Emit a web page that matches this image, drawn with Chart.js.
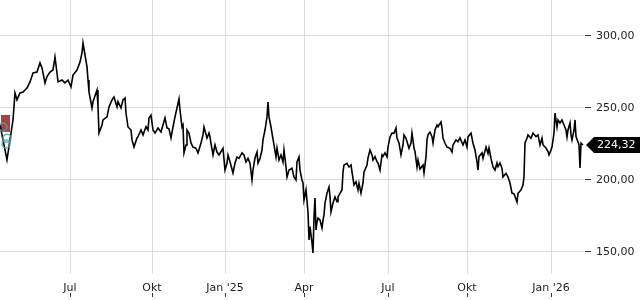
<!DOCTYPE html>
<html>
<head>
<meta charset="utf-8">
<script src="https://cdn.jsdelivr.net/npm/chart.js@4/dist/chart.umd.min.js"></script>
<style>
  html, body { margin: 0; padding: 0; background: #fff; }
  #chart { display: block; }
</style>
</head>
<body>
<canvas id="chart" width="640" height="300"></canvas>
<script>
// Price history: sample index (one sample per slot on the time axis) and close price
const sampleIdx = [
  0, 2, 4, 7, 10, 13, 15, 17, 20, 23, 27, 30, 33, 37, 40, 42, 45, 47, 50, 53,
  55, 57, 58, 62, 65, 68, 71, 73, 77, 80, 82, 83, 85, 87, 88, 89, 92, 93, 97, 98,
  99, 102, 103, 107, 109, 112, 114, 117, 118, 121, 123, 125, 126, 128, 131, 132, 134, 137, 138, 141,
  143, 146, 148, 149, 151, 153, 155, 158, 161, 163, 165, 167, 169, 171, 173, 175, 177, 179, 180, 182,
  183, 184, 186, 187, 189, 191, 193, 196, 198, 201, 203, 204, 207, 209, 210, 211, 213, 215, 217, 219,
  222, 223, 225, 227, 228, 230, 233, 235, 237, 239, 242, 244, 246, 248, 250, 252, 253, 255, 257, 258,
  260, 262, 263, 265, 267, 268, 269, 271, 272, 274, 276, 277, 279, 281, 283, 284, 286, 287, 289, 292,
  294, 296, 297, 299, 300, 302, 303, 304, 306, 308, 309, 310, 312, 313, 314, 315, 316, 317, 318, 320,
  322, 323, 324, 325, 327, 329, 330, 331, 333, 335, 337, 338, 340, 342, 343, 344, 347, 349, 351, 352,
  354, 356, 358, 359, 361, 363, 364, 367, 368, 370, 372, 373, 375, 377, 378, 380, 382, 383, 385, 387,
  388, 390, 392, 394, 396, 397, 399, 401, 403, 404, 406, 408, 409, 411, 412, 414, 415, 417, 418, 420,
  423, 424, 426, 427, 428, 430, 432, 433, 435, 437, 438, 441, 442, 443, 445, 447, 450, 452, 453, 456,
  458, 460, 463, 465, 467, 468, 471, 473, 475, 477, 478, 479, 482, 483, 486, 488, 489, 491, 493, 495,
  497, 498, 500, 502, 503, 506, 508, 510, 512, 514, 517, 518, 521, 523, 524, 525, 527, 528, 531, 533,
  536, 538, 540, 542, 543, 546, 548, 549, 551, 552, 554, 555, 557, 558, 560, 562, 564, 566, 567, 568,
  570, 571, 572, 574, 575, 576, 578, 579, 580, 581, 583
];
const price = [
  238.2, 231.3, 224.3, 213.9, 227.8, 241.7, 260.4, 255.6, 260.4, 261.1, 263.9, 268.1, 274.3, 275.0, 281.3, 277.8, 267.4, 271.8, 275.0, 276.4,
  285.4, 274.3, 268.1, 269.4, 267.4, 269.4, 264.6, 272.9, 276.4, 281.9, 288.2, 295.1, 286.8, 278.5, 269.4, 261.1, 250.0, 254.4, 262.5, 250.9,
  232.6, 238.2, 241.7, 243.8, 250.7, 255.6, 257.6, 250.7, 254.4, 250.0, 255.6, 256.9, 246.5, 236.8, 234.7, 227.8, 222.9, 229.2, 230.1, 234.7,
  231.3, 237.0, 234.7, 243.1, 245.1, 234.7, 232.6, 236.1, 233.3, 238.2, 243.1, 236.1, 235.5, 229.2, 236.8, 243.8, 250.0, 256.3, 248.6, 236.8,
  238.2, 218.8, 224.3, 234.7, 232.4, 225.7, 222.9, 222.0, 218.8, 225.7, 231.3, 236.8, 229.2, 232.6, 229.9, 225.5, 217.4, 224.3, 219.4, 217.4,
  220.8, 222.0, 206.9, 211.6, 217.4, 212.7, 204.9, 211.8, 216.0, 215.0, 218.8, 217.4, 212.5, 215.0, 211.6, 200.0, 206.9, 215.3, 219.4, 211.8,
  215.0, 220.8, 227.8, 234.7, 243.8, 254.2, 243.8, 236.8, 232.6, 224.3, 216.0, 222.2, 213.9, 217.4, 212.5, 220.8, 209.0, 202.1, 206.9, 208.1,
  202.1, 200.0, 212.5, 216.0, 206.9, 200.0, 197.9, 186.1, 193.1, 177.8, 158.3, 167.6, 156.3, 149.3, 174.3, 187.5, 165.3, 170.8, 173.6, 172.2,
  166.7, 172.2, 175.7, 184.0, 190.9, 195.1, 188.4, 177.8, 184.0, 188.2, 185.0, 188.2, 190.7, 193.1, 205.6, 210.4, 211.6, 209.0, 210.4, 205.6,
  196.5, 198.8, 193.1, 197.7, 190.9, 197.9, 205.6, 210.4, 215.3, 220.8, 217.4, 213.9, 216.2, 212.7, 211.8, 206.9, 217.4, 216.5, 218.8, 216.0,
  222.9, 229.9, 232.6, 232.4, 236.1, 229.2, 225.7, 217.4, 224.3, 231.3, 229.0, 224.3, 222.0, 225.7, 232.6, 222.2, 219.7, 209.0, 213.9, 207.6,
  210.4, 204.9, 216.0, 227.8, 231.3, 233.3, 230.1, 225.7, 234.7, 238.2, 237.0, 240.3, 235.9, 229.2, 225.5, 222.9, 222.0, 219.4, 224.3, 227.8,
  226.6, 229.2, 224.3, 227.8, 222.9, 229.9, 232.6, 225.5, 220.8, 212.5, 206.9, 216.2, 218.8, 215.0, 222.9, 218.5, 222.2, 215.0, 209.0, 206.9,
  211.8, 209.3, 211.8, 208.1, 202.1, 204.6, 202.1, 197.9, 190.9, 190.4, 184.7, 190.7, 193.1, 196.5, 202.3, 225.7, 229.0, 231.3, 229.0, 232.6,
  230.1, 231.3, 224.3, 229.0, 224.3, 222.2, 219.7, 217.4, 220.8, 222.9, 232.6, 246.5, 236.8, 241.7, 239.6, 241.7, 238.2, 234.7, 229.9, 234.7,
  239.6, 231.3, 227.8, 234.7, 241.7, 230.1, 226.4, 224.3, 208.3, 225.7, 224.32
];

// Month ticks on the time axis
const monthTickIdx = [70, 152, 225, 304, 388, 467, 551];
const monthLabels = ['Jul', 'Okt', "Jan '25", 'Apr', 'Jul', 'Okt', "Jan '26"];

// Price axis ticks
const priceTicks = [150, 200, 250, 300];

// Event markers at the start of the series
const redMarkIdx = [5];
const redMarkPrice = [239.2];
const tealMarkIdx = [3, 7, 6];
const tealMarkPrice = [236.8, 229.0, 225.0];

const fmt = v => v.toFixed(2).replace('.', ',');

Chart.defaults.font.family = "'DejaVu Sans', sans-serif";
Chart.defaults.font.size = 11;
Chart.defaults.color = '#222';

// red block marker image
const redBlock = document.createElement('canvas');
redBlock.width = 9;
redBlock.height = 17;
(function () {
    const c = redBlock.getContext('2d');
    c.fillStyle = 'rgba(160, 50, 50, 0.92)';
    c.fillRect(0, 0, 9, 17);
})();

// no extra edge padding from the scales
function noPad(s) {
    s.paddingTop = 0;
    s.paddingBottom = 0;
    s.paddingLeft = 0;
    s.paddingRight = 0;
}

// draws x tick marks under the labels and the last price tag
const extras = {
    id: 'extras',
    afterDraw(chart) {
        const ctx = chart.ctx;
        const xs = chart.scales.x;
        const ys = chart.scales.y;
        ctx.save();
        ctx.strokeStyle = '#333';
        ctx.lineWidth = 1;
        monthTickIdx.forEach(v => {
            const px = Math.round(xs.getPixelForValue(v)) + 0.5;
            ctx.beginPath();
            ctx.moveTo(px, 293);
            ctx.lineTo(px, 297);
            ctx.stroke();
        });

        const last = price[price.length - 1];
        const y = Math.round(ys.getPixelForValue(last));
        const r = chart.chartArea.right;
        ctx.fillStyle = '#000';
        ctx.beginPath();
        ctx.moveTo(r + 1, y);
        ctx.lineTo(r + 9, y - 8);
        ctx.lineTo(chart.width, y - 8);
        ctx.lineTo(chart.width, y + 8);
        ctx.lineTo(r + 9, y + 8);
        ctx.closePath();
        ctx.fill();
        ctx.fillStyle = '#fff';
        ctx.font = "11px 'DejaVu Sans', sans-serif";
        ctx.textBaseline = 'middle';
        ctx.textAlign = 'left';
        ctx.fillText(fmt(last), r + 12, y + 0.5);
        ctx.restore();
    }
};

new Chart(document.getElementById('chart'), {
    type: 'line',
    data: {
        datasets: [
            {
                type: 'scatter',
                data: redMarkIdx.map((x, i) => ({ x, y: redMarkPrice[i] })),
                pointStyle: redBlock,
                clip: false,
                order: 3
            },
            {
                data: sampleIdx.map((x, i) => ({ x, y: price[i] })),
                borderColor: '#000',
                borderWidth: 1.6,
                pointRadius: 0,
                tension: 0,
                order: 2
            },
            {
                type: 'scatter',
                data: tealMarkIdx.map((x, i) => ({ x, y: tealMarkPrice[i] })),
                pointStyle: 'circle',
                pointRadius: 4,
                borderColor: 'rgba(80, 160, 168, 0.85)',
                backgroundColor: 'rgba(0, 0, 0, 0)',
                borderWidth: 1.5,
                clip: false,
                order: 1
            }
        ]
    },
    options: {
        responsive: false,
        animation: false,
        layout: { padding: 0, autoPadding: false },
        plugins: {
            legend: { display: false },
            tooltip: { enabled: false }
        },
        scales: {
            x: {
                type: 'linear',
                min: 0,
                max: 585,
                afterBuildTicks: s => { s.ticks = monthTickIdx.map(v => ({ value: v })); },
                afterFit: s => { s.height = 26; noPad(s); },
                ticks: {
                    autoSkip: false,
                    maxRotation: 0,
                    padding: 8,
                    callback: (v, i) => monthLabels[i]
                },
                grid: { color: '#dcdcdc', drawTicks: false },
                border: { display: false }
            },
            y: {
                position: 'right',
                min: 134.7,
                max: 325,
                afterBuildTicks: s => { s.ticks = priceTicks.map(v => ({ value: v })); },
                afterFit: s => { s.width = 55; noPad(s); },
                ticks: {
                    padding: 5,
                    callback: v => fmt(v)
                },
                grid: { color: '#dcdcdc', tickColor: '#333', tickLength: 6 },
                border: { display: false }
            }
        }
    },
    plugins: [extras]
});
</script>
</body>
</html>
